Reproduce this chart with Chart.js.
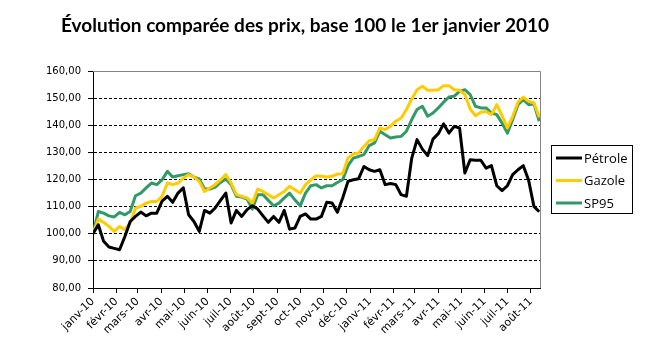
<!DOCTYPE html>
<html lang="fr">
<head>
<meta charset="utf-8">
<title>Évolution comparée des prix</title>
<script src="https://cdn.jsdelivr.net/npm/chart.js@4.4.0/dist/chart.umd.min.js"></script>
<style>
  html, body { margin: 0; padding: 0; background: #fff; }
  #container { width: 650px; height: 360px; }
</style>
</head>
<body>
<div id="container"><canvas id="my-chart" width="650" height="360"></canvas></div>
<script>
'use strict';

// ******** DATA *******

let chartTitle = 'Évolution comparée des prix, base 100 le 1er janvier 2010';

// month tick labels (first of each month, janv-10 .. août-11)
let monthLabels = ['janv-10', 'févr-10', 'mars-10', 'avr-10', 'mai-10', 'juin-10', 'juil-10', 'août-10',
  'sept-10', 'oct-10', 'nov-10', 'déc-10', 'janv-11', 'févr-11', 'mars-11', 'avr-11', 'mai-11',
  'juin-11', 'juil-11', 'août-11'];

let yTicks = [80, 90, 100, 110, 120, 130, 140, 150, 160];

// weekly values, base 100 on 1 Jan 2010
let petrole = [100, 103.3, 97.2, 95.1, 94.6, 94.1, 99, 104.5, 106.4, 108,
  106.6, 107.6, 107.6, 112, 113.8, 111.6, 115, 116.9, 107, 104.5,
  100.9, 108.6, 107.6, 109.5, 112.3, 115, 104, 108.6, 106.4, 108.9,
  110.3, 109.1, 106.6, 104.2, 106.4, 104.2, 108.6, 101.7, 102.1, 106.4,
  107.3, 105.4, 105.4, 106.4, 111.6, 111.3, 107.9, 113.2, 119.3, 119.9,
  120.3, 124.8, 123.6, 123, 123.6, 118.1, 118.5, 118.1, 114.4, 113.8,
  127.9, 134.7, 131.2, 128.8, 134.9, 136.9, 140.5, 137.1, 139.6, 139,
  122.4, 127.3, 127.1, 127.1, 124.2, 125.1, 117.7, 115.9, 117.7, 121.8,
  123.6, 125.1, 119.7, 110.1, 108.1];

let gazole = [100, 105.4, 104.2, 102.7, 100.9, 102.7, 101.5, 103.9, 109.5, 110.1,
  111.3, 111.9, 111.9, 113.8, 118.7, 118.1, 118.7, 120.5, 121.8, 120.9,
  119.3, 115.6, 116.9, 118.1, 119.9, 121.8, 118.7, 114.4, 113.8, 113.2,
  111.3, 116.5, 115.6, 114.4, 113.2, 114.4, 115.6, 117.5, 116.2, 115,
  118.1, 119.9, 121.4, 121.2, 120.9, 121.2, 122, 122.1, 127.9, 129.4,
  129.8, 132.2, 134.3, 134.7, 139, 138.4, 139.6, 141.5, 142.7, 145.8,
  149.7, 153.1, 154.4, 152.9, 152.9, 153.1, 154.6, 154.6, 153.1, 152.9,
  151.3, 146, 143.5, 144.8, 145.1, 143.9, 147.6, 143.5, 139, 143.3,
  148.5, 150.4, 148.8, 148.2, 143];

let sp95 = [100, 108.2, 107.6, 106.6, 106.2, 107.9, 107, 108.2, 114, 115,
  116.9, 118.7, 118.1, 119.9, 123, 120.9, 121.4, 121.8, 122.1, 120.9,
  120.2, 116.5, 116.5, 117.2, 118.9, 120.2, 118.1, 113.8, 113.5, 112.8,
  109.1, 114.4, 114.4, 112.3, 110.3, 111.3, 113.2, 115, 112.5, 110.3,
  115, 117.7, 118.1, 116.9, 117.7, 117.7, 118.9, 119.9, 125.1, 127.9,
  128.5, 129.2, 132.5, 133.5, 137.8, 136.5, 135.3, 135.7, 135.9, 137.8,
  142.1, 145.8, 147, 143.3, 144.5, 146.4, 148.5, 150.4, 150.7, 152.5,
  153.1, 151.3, 147, 146.4, 146.4, 144.5, 143.9, 140.8, 137.1, 142.1,
  147.6, 149.4, 147.6, 147.8, 141.5];

// ******** HELPERS *******

const DAY = 24 * 3600 * 1000;
const START = Date.UTC(2010, 0, 1);

// day offset of the first of each labelled month
let monthStarts = monthLabels.map((lbl, i) => Math.round((Date.UTC(2010, i, 1) - START) / DAY));

// one point per week
function toPoints(values) {
  return values.map((v, i) => ({ x: i * 7, y: v }));
}

function frNumber(v) {
  return v.toFixed(2).replace('.', ',');
}

// ******** PLUGINS *******

// white background + title
const titlePlugin = {
  id: 'titlePlugin',
  beforeDraw(chart) {
    let c = chart.ctx;
    c.save();
    c.fillStyle = '#fff';
    c.fillRect(0, 0, chart.width, chart.height);
    c.fillStyle = '#000';
    c.font = 'bold 19px Lato';
    c.textAlign = 'center';
    c.textBaseline = 'alphabetic';
    c.fillText(chartTitle, 305, 32);
    c.restore();
  }
};

// grey border on top/right of the plot area
const framePlugin = {
  id: 'framePlugin',
  beforeDatasetsDraw(chart) {
    let a = chart.chartArea;
    let c = chart.ctx;
    c.save();
    c.strokeStyle = '#868686';
    c.lineWidth = 1;
    c.beginPath();
    c.moveTo(a.left, a.top + 0.5);
    c.lineTo(a.right + 0.5, a.top + 0.5);
    c.lineTo(a.right + 0.5, a.bottom);
    c.stroke();
    c.restore();
  }
};

// boxed legend on the right
const legendPlugin = {
  id: 'legendPlugin',
  afterDraw(chart) {
    let c = chart.ctx;
    c.save();
    c.strokeStyle = '#000';
    c.lineWidth = 1;
    c.strokeRect(551.5, 145.5, 81, 68);
    chart.data.datasets.forEach((ds, i) => {
      let y = 158 + i * 22.5;
      c.strokeStyle = ds.borderColor;
      c.lineWidth = 3;
      c.beginPath();
      c.moveTo(556, y);
      c.lineTo(582, y);
      c.stroke();
      c.fillStyle = '#000';
      c.font = '13px "Open Sans"';
      c.textAlign = 'left';
      c.textBaseline = 'middle';
      c.fillText(ds.label, 584, y + 1);
    });
    c.restore();
  }
};

// ******** CHART *******

let ctx = document.getElementById('my-chart');

let chartObject = {
  type: 'line',
  data: {
    datasets: [
      { label: 'Pétrole', data: toPoints(petrole), borderColor: '#000000', borderWidth: 3 },
      { label: 'Gazole', data: toPoints(gazole), borderColor: '#FFCC00', borderWidth: 3 },
      { label: 'SP95', data: toPoints(sp95), borderColor: '#339966', borderWidth: 3 }
    ]
  },
  options: {
    responsive: false,
    animation: false,
    devicePixelRatio: 1,
    elements: {
      point: { radius: 0, hoverRadius: 0 },
      line: { tension: 0, fill: false, borderJoinStyle: 'round' }
    },
    layout: { padding: { top: 71, right: 110, bottom: 0, left: 0 } },
    plugins: {
      legend: { display: false },
      title: { display: false },
      tooltip: { enabled: false }
    },
    scales: {
      x: {
        type: 'linear',
        min: 0,
        max: 589,
        afterBuildTicks: function (scale) {
          scale.ticks = monthStarts.map(v => ({ value: v }));
        },
        afterFit: function (scale) {
          scale.height = 72;
        },
        ticks: {
          autoSkip: false,
          minRotation: 45,
          maxRotation: 45,
          padding: 2,
          color: '#000',
          font: { family: 'DejaVu Sans', size: 11 },
          callback: function (value, index) {
            return monthLabels[index];
          }
        },
        grid: { drawOnChartArea: false, drawTicks: true, tickLength: 5, color: '#000' },
        border: { color: '#000', width: 1 }
      },
      y: {
        min: yTicks[0],
        max: yTicks[yTicks.length - 1],
        afterBuildTicks: function (scale) {
          scale.ticks = yTicks.map(v => ({ value: v }));
        },
        afterFit: function (scale) {
          scale.width = 93;
        },
        ticks: {
          padding: 7,
          color: '#000',
          font: { family: 'DejaVu Sans', size: 10 },
          callback: function (value) {
            return frNumber(value);
          }
        },
        grid: {
          color: function (c) {
            if (c.tick && (c.tick.value === 80 || c.tick.value === 160)) {
              return 'rgba(0,0,0,0)';
            }
            return '#000';
          },
          tickColor: '#000',
          tickLength: 5,
          lineWidth: 1
        },
        border: { color: '#000', width: 1, dash: [3, 2] }
      }
    }
  },
  plugins: [titlePlugin, framePlugin, legendPlugin]
};

const myChart = new Chart(ctx, chartObject);
</script>
</body>
</html>
